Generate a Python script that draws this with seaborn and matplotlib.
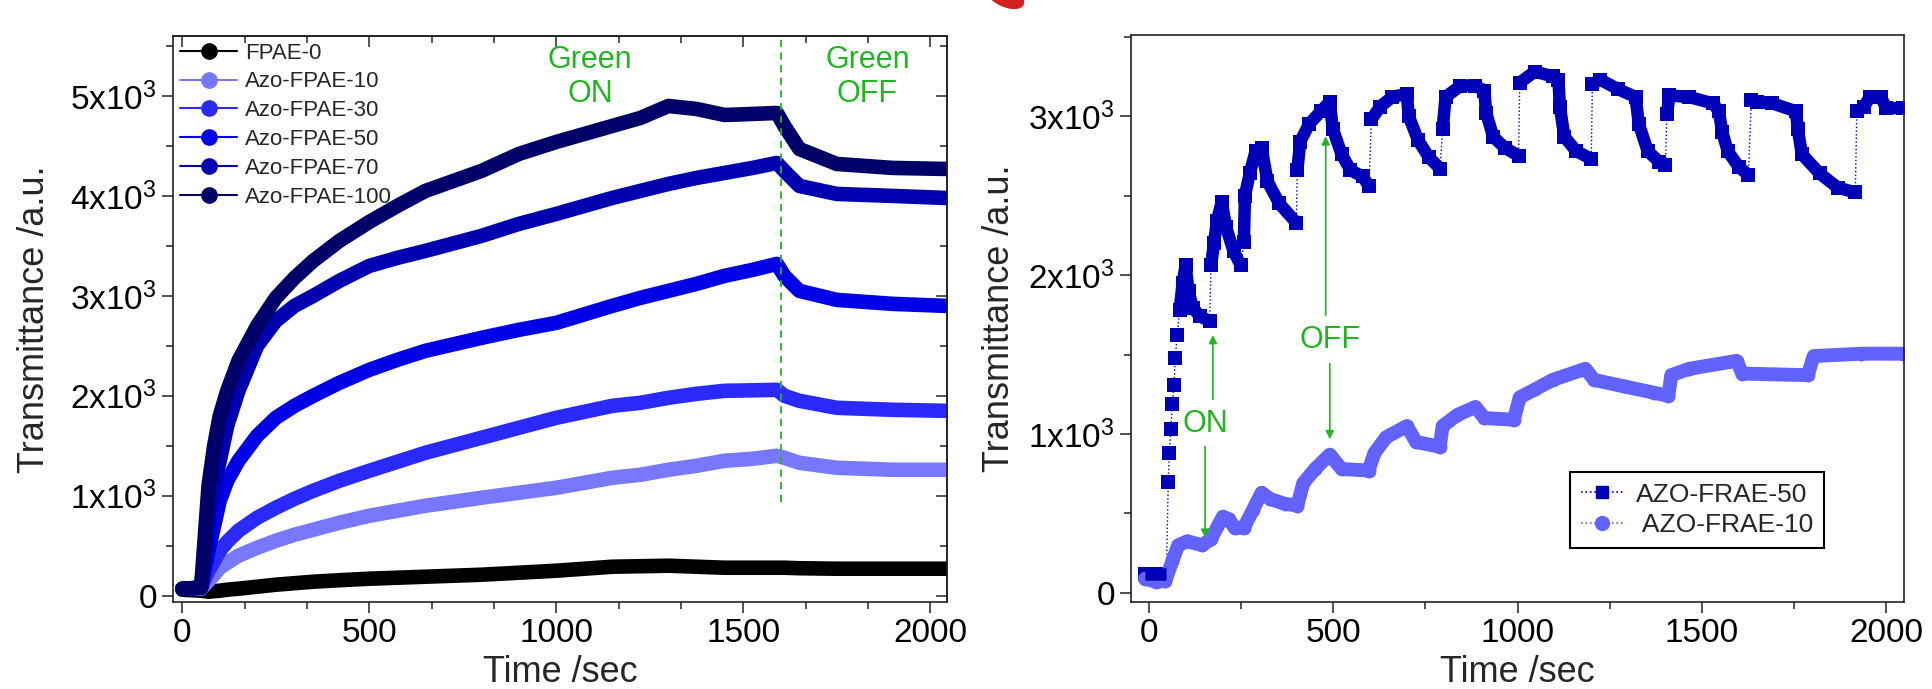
import pandas as pd
import matplotlib
matplotlib.use("Agg")
import matplotlib.pyplot as plt
import seaborn as sns
from matplotlib.ticker import MultipleLocator, FuncFormatter, AutoMinorLocator
from matplotlib.lines import Line2D
from matplotlib.patches import Ellipse

# -------------------------
# Left panel data
# -------------------------
time_left = [0, 50, 70, 85, 100, 120, 150, 200, 250, 300, 350, 420, 500, 575,
             650, 800, 900, 1000, 1150, 1225, 1300, 1375, 1450, 1525, 1590,
             1610, 1650, 1750, 1900, 2040]
fpae_0 = [60, 50, 40, 45, 50, 60, 70, 90, 110, 125, 140, 155, 170, 180,
          190, 210, 230, 250, 290, 295, 300, 290, 280, 280, 280,
          280, 275, 270, 270, 270]
azo_10 = [70, 70, 150, 210, 280, 330, 400, 480, 550, 610, 660, 730, 800, 850,
          900, 980, 1030, 1080, 1180, 1210, 1260, 1300, 1350, 1370, 1400,
          1380, 1330, 1280, 1260, 1260]
azo_30 = [70, 80, 250, 350, 450, 540, 650, 780, 880, 970, 1050, 1150, 1250, 1340,
          1430, 1580, 1680, 1780, 1900, 1930, 1980, 2020, 2050, 2055, 2060,
          2000, 1950, 1880, 1860, 1850]
azo_50 = [70, 80, 450, 700, 950, 1150, 1350, 1600, 1780, 1900, 2000, 2130, 2260, 2360,
          2450, 2580, 2660, 2730, 2900, 2980, 3050, 3120, 3200, 3260, 3320,
          3200, 3050, 2960, 2920, 2900]
azo_70 = [70, 80, 800, 1100, 1350, 1700, 2050, 2500, 2750, 2900, 3000, 3150, 3300, 3380,
          3450, 3600, 3720, 3820, 3980, 4050, 4120, 4180, 4230, 4280, 4330,
          4250, 4100, 4020, 4000, 3980]
azo_100 = [70, 80, 1100, 1500, 1800, 2050, 2350, 2700, 2980, 3180, 3350, 3550, 3740, 3900,
           4050, 4250, 4420, 4540, 4700, 4780, 4900, 4870, 4810, 4820, 4830,
           4700, 4470, 4320, 4280, 4270]
names_left = ["FPAE-0", "Azo-FPAE-10", "Azo-FPAE-30", "Azo-FPAE-50",
              "Azo-FPAE-70", "Azo-FPAE-100"]
series_left = [fpae_0, azo_10, azo_30, azo_50, azo_70, azo_100]
colors_left = ["#000000", "#7878ff", "#2a2aff", "#0000e6", "#0000b0", "#000068"]
switch_time = 1600

# -------------------------
# Right panel data (on/off cycles)
# -------------------------
# seg = -1 : isolated points in the steep first rise (markers only)
sq_t = [-10, 10, 30, 48,
        53, 56, 60, 64, 69, 72, 77,
        84, 92, 100, 108, 120, 140, 165,
        169, 177, 185, 198, 210, 230, 250,
        258, 261, 274, 290, 306, 322, 354, 400,
        403, 411, 435, 467, 491, 499, 523, 547, 580, 597,
        604, 628, 660, 700, 705, 730, 760, 790,
        797, 805, 845, 886, 910, 915, 934, 966, 1003,
        1006, 1047, 1095, 1111, 1115, 1127, 1159, 1200,
        1203, 1224, 1272, 1320, 1329, 1353, 1385, 1401,
        1405, 1412, 1465, 1530, 1546, 1555, 1570, 1600, 1626,
        1634, 1650, 1691, 1755, 1760, 1771, 1819, 1868, 1916,
        1920, 1940, 1955, 1985, 2000, 2045]
sq_v = [120, 120, 120, 120,
        700, 880, 1030, 1190, 1310, 1480, 1620,
        1780, 1950, 2060, 1900, 1790, 1740, 1710,
        2060, 2200, 2340, 2460, 2300, 2150, 2060,
        2210, 2500, 2640, 2780, 2800, 2590, 2450, 2330,
        2660, 2840, 2950, 3030, 3090, 2920, 2760, 2660, 2620, 2560,
        2980, 3060, 3120, 3140, 3000, 2850, 2740, 2670,
        2920, 3120, 3190, 3190, 3160, 3020, 2870, 2800, 2750,
        3210, 3280, 3250, 3230, 3060, 2870, 2780, 2730,
        3200, 3230, 3170, 3120, 2950, 2780, 2710, 2690,
        3010, 3130, 3120, 3080, 3030, 2900, 2780, 2680, 2630,
        3100, 3090, 3080, 3030, 2920, 2760, 2640, 2550, 2520,
        3030, 3060, 3120, 3120, 3050, 3050]
sq_seg = [0, 0, 0, 0,
          -1, -1, -1, -1, -1, -1, -1,
          1, 1, 1, 1, 1, 1, 1,
          2, 2, 2, 2, 2, 2, 2,
          3, 3, 3, 3, 3, 3, 3, 3,
          4, 4, 4, 4, 4, 4, 4, 4, 4, 4,
          5, 5, 5, 5, 5, 5, 5, 5,
          6, 6, 6, 6, 6, 6, 6, 6, 6,
          7, 7, 7, 7, 7, 7, 7, 7,
          8, 8, 8, 8, 8, 8, 8, 8,
          9, 9, 9, 9, 9, 9, 9, 9, 9,
          10, 10, 10, 10, 10, 10, 10, 10, 10,
          11, 11, 11, 11, 11, 11]

ci_t = [-10, 20, 45, 64, 80, 105, 145, 169, 201, 217, 233, 258, 282, 306,
        330, 370, 403, 419, 451, 491, 523, 596, 612, 644, 700, 725, 789,
        797, 837, 886, 910, 990, 1006, 1047, 1095, 1184, 1208, 1288, 1369,
        1409, 1417, 1465, 1594, 1610, 1787, 1803, 1932, 2045]
ci_v = [90, 70, 75, 200, 300, 325, 300, 340, 480, 465, 410, 410, 520, 630,
        590, 560, 550, 690, 780, 870, 780, 770, 880, 980, 1050, 950, 920,
        1050, 1120, 1170, 1100, 1090, 1230, 1280, 1340, 1410, 1340, 1300, 1260,
        1240, 1370, 1410, 1460, 1380, 1370, 1490, 1505, 1505]

names_right = ["AZO-FRAE-50", " AZO-FRAE-10"]
colors_right = ["#0000b8", "#6262ff"]
green = "#22b422"

# -------------------------
# Style
# -------------------------
sns.set_theme(style="ticks")
plt.rcParams["font.family"] = ["Liberation Sans", "DejaVu Sans"]
plt.rcParams["mathtext.fontset"] = "custom"
plt.rcParams["mathtext.rm"] = "Liberation Sans"
plt.rcParams["axes.edgecolor"] = "#222222"
plt.rcParams["axes.linewidth"] = 1.2

TICK_FS = 24
LABEL_FS = 26


def sci_fmt(v, pos):
    if abs(v) < 1e-9:
        return "0"
    return r"$\mathregular{%dx10^{3}}$" % round(v / 1000)


fig = plt.figure(figsize=(19.32, 6.89), dpi=100)
W, H = 1932, 689
ax1 = fig.add_axes([173 / W, 1 - 602 / H, (947 - 173) / W, (602 - 36) / H])
ax2 = fig.add_axes([1131 / W, 1 - 602 / H, (1904 - 1131) / W, (602 - 35) / H])

# -------------------------
# Left panel
# -------------------------
for name, vals, col in zip(names_left, series_left, colors_left):
    sns.lineplot(x=time_left, y=vals, ax=ax1, color=col, lw=10.5,
                 solid_capstyle="round", solid_joinstyle="round",
                 estimator=None, legend=False)

ax1.set_xlim(-25, 2045)
ax1.set_ylim(-63, 5600)
ax1.vlines(switch_time, 940, 5600, colors=green, linestyles=(0, (4, 3)), lw=1.3)
ax1.text(1090, 5190, "Green\nON", color=green, fontsize=22, ha="center",
         va="center", linespacing=1.15)
ax1.text(1832, 5190, "Green\nOFF", color=green, fontsize=22, ha="center",
         va="center", linespacing=1.15)

handles = [Line2D([], [], color=c, lw=1.5, marker="o", ms=11) for c in colors_left]
ax1.legend(handles, names_left, loc="upper left", bbox_to_anchor=(0, 1),
           frameon=False, fontsize=16, handlelength=2.6, handletextpad=0.35,
           labelspacing=0.35, borderaxespad=0.1, borderpad=0.2)

# -------------------------
# Right panel
# -------------------------
df_sq = pd.DataFrame({"t": sq_t, "v": sq_v, "seg": sq_seg})
df_ci = pd.DataFrame({"t": ci_t, "v": ci_v})

sns.lineplot(data=df_sq, x="t", y="v", ax=ax2, color=colors_right[0], lw=1,
             linestyle=":", estimator=None, legend=False)
sns.lineplot(data=df_ci, x="t", y="v", ax=ax2, color=colors_right[1], lw=10,
             solid_capstyle="round", solid_joinstyle="round",
             estimator=None, legend=False)
sns.scatterplot(data=df_ci, x="t", y="v", ax=ax2, color=colors_right[1],
                marker="o", s=100, linewidth=0, legend=False)
sns.lineplot(data=df_sq[df_sq["seg"] >= 0], x="t", y="v", units="seg", ax=ax2,
             color=colors_right[0], lw=9, solid_capstyle="butt",
             solid_joinstyle="round", estimator=None, legend=False)
sns.scatterplot(data=df_sq, x="t", y="v", ax=ax2, color=colors_right[0],
                marker="s", s=90, linewidth=0, legend=False)

ax2.set_xlim(-48, 2048)
ax2.set_ylim(-57, 3510)

arrow_kw = dict(arrowstyle="-|>", color=green, lw=1.2, mutation_scale=12)
ax2.annotate("", xy=(174, 1640), xytext=(174, 1200), arrowprops=arrow_kw)
ax2.annotate("", xy=(153, 330), xytext=(153, 940), arrowprops=arrow_kw)
ax2.annotate("", xy=(480, 2890), xytext=(480, 1730), arrowprops=arrow_kw)
ax2.annotate("", xy=(491, 950), xytext=(491, 1460), arrowprops=arrow_kw)
ax2.text(153, 1060, "ON", color=green, fontsize=22, ha="center", va="center")
ax2.text(491, 1590, "OFF", color=green, fontsize=22, ha="center", va="center")

handles_r = [Line2D([], [], color=colors_right[0], ls=":", lw=1.2, marker="s", ms=9),
             Line2D([], [], color=colors_right[1], ls=":", lw=1.2, marker="o", ms=10)]
leg = ax2.legend(handles_r, names_right, loc="upper left",
                 bbox_to_anchor=(0.568, 0.229), fontsize=19, handlelength=1.6,
                 handletextpad=0.5, labelspacing=0.25, borderaxespad=0,
                 fancybox=False, framealpha=1, edgecolor="black")
leg.get_frame().set_linewidth(1.5)

# -------------------------
# Axes cosmetics
# -------------------------
for ax, xminor, ylab_x in [(ax1, 3, -0.156), (ax2, 2, -0.1475)]:
    ax.xaxis.set_major_locator(MultipleLocator(500))
    ax.xaxis.set_minor_locator(AutoMinorLocator(xminor))
    ax.yaxis.set_major_locator(MultipleLocator(1000))
    ax.yaxis.set_minor_locator(MultipleLocator(500))
    ax.yaxis.set_major_formatter(FuncFormatter(sci_fmt))
    ax.tick_params(which="major", direction="out", length=8, width=1.1,
                   labelsize=TICK_FS, colors="#222222", labelcolor="black")
    ax.tick_params(which="minor", direction="out", length=5, width=1.1,
                   colors="#222222")
    ax.set_xlabel("Time /sec", fontsize=LABEL_FS)
    ax.set_ylabel("Transmittance /a.u.", fontsize=LABEL_FS)
    ax.xaxis.set_label_coords(0.5, -0.093)
    ax.yaxis.set_label_coords(ylab_x, 0.5)
    for s in ax.spines.values():
        s.set_visible(True)

# inward mirror ticks on the left panel only
top = ax1.secondary_xaxis("top")
top.xaxis.set_major_locator(MultipleLocator(500))
top.xaxis.set_minor_locator(AutoMinorLocator(3))
top.tick_params(which="both", direction="in", labeltop=False, width=1.1)
top.tick_params(which="major", length=8)
top.tick_params(which="minor", length=5)
right = ax1.secondary_yaxis("right")
right.yaxis.set_major_locator(MultipleLocator(1000))
right.yaxis.set_minor_locator(MultipleLocator(500))
right.tick_params(which="both", direction="in", labelright=False, width=1.1)
right.tick_params(which="major", length=8)
right.tick_params(which="minor", length=5)

# red fragment at the top edge
fig.add_artist(Ellipse((10.05, 6.93), 0.4, 0.2, angle=-25, color="#d42020",
                       transform=fig.dpi_scale_trans))

fig.savefig("out.png", dpi=100)
